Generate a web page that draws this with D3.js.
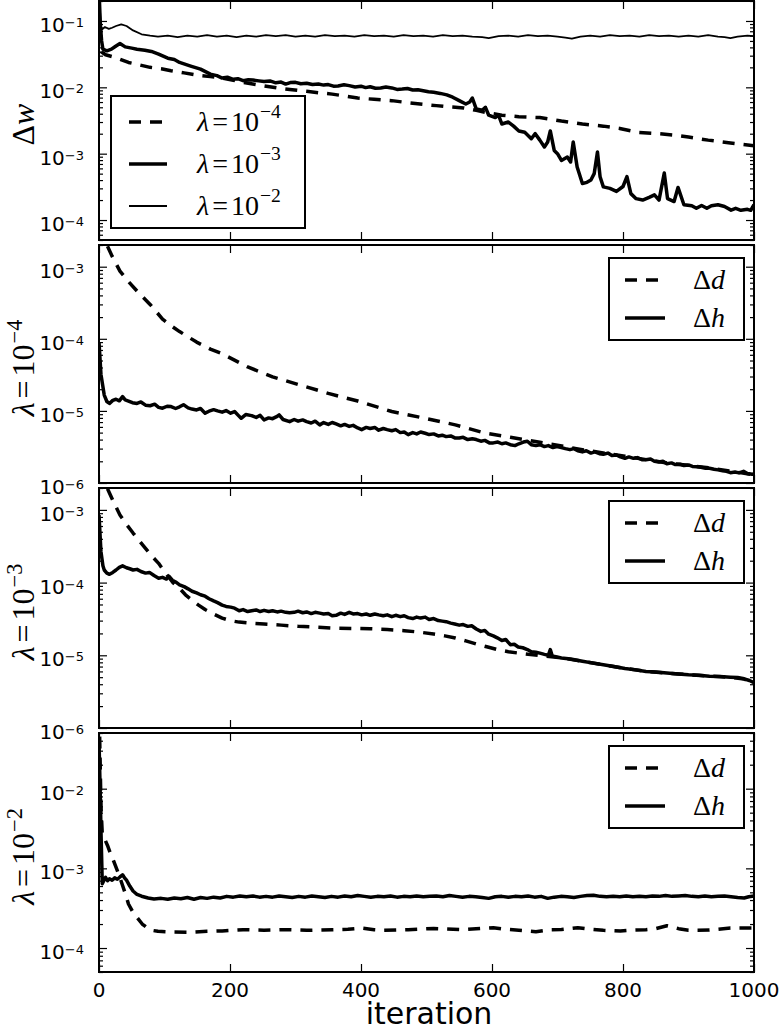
<!DOCTYPE html>
<html>
<head>
<meta charset="utf-8">
<script src="https://cdn.jsdelivr.net/npm/d3@7"></script>
<style>
  body { margin: 0; background: #fff; }
</style>
</head>
<body>
<div id="chart"></div>
<script>
// ---- data: [iteration, value] ----

// top panel, delta w for three lambdas
const dwLam4 = [[0,0.15],[2,0.05],[4,0.034],[10,0.031],[26,0.028],[45,0.0237],[60,0.022],[78,0.020],[95,0.019],[110,0.0178],[130,0.0165],[155,0.015],[170,0.0145],[188,0.0138],[205,0.0128],[220,0.0119],[245,0.0108],[272,0.0098],[295,0.0092],[317,0.0087],[335,0.0083],[356,0.0079],[375,0.0074],[395,0.0069],[420,0.0066],[447,0.0063],[470,0.0059],[498,0.0055],[515,0.0053],[531,0.0051],[557,0.0049],[576,0.0045],[595,0.0041],[615,0.0038],[641,0.0036],[673,0.0035],[690,0.0033],[706,0.0031],[738,0.0028],[770,0.0026],[795,0.0024],[822,0.0021],[854,0.0020],[880,0.0019],[900,0.00178],[930,0.0016],[964,0.00145],[1000,0.00132]];

const dwLam3 = [[0,0.3],[2,0.09],[4,0.05],[6,0.0376],[12,0.0355],[19,0.0376],[26,0.042],[32,0.0457],[40,0.0407],[50,0.039],[58,0.0376],[70,0.0363],[80,0.0347],[91,0.0316],[105,0.0275],[115,0.0262],[123,0.0237],[140,0.0209],[155,0.0188],[170,0.0158],[180,0.0150],[188,0.0138],[196,0.0142],[205,0.0132],[212,0.0135],[220,0.0126],[228,0.0130],[235,0.0129],[244,0.0125],[252,0.0122],[261,0.0125],[270,0.0117],[278,0.0120],[285,0.0112],[292,0.0118],[300,0.0119],[308,0.0113],[317,0.0115],[326,0.0110],[335,0.0112],[343,0.0108],[350,0.0110],[358,0.0104],[365,0.0105],[374,0.0109],[382,0.0106],[391,0.0101],[400,0.0104],[407,0.0099],[414,0.0102],[422,0.0097],[430,0.0098],[438,0.0101],[447,0.0098],[455,0.0093],[463,0.0094],[471,0.0096],[479,0.0091],[487,0.0092],[495,0.0089],[503,0.0086],[511,0.0084],[521,0.0081],[531,0.0077],[540,0.0071],[550,0.0063],[560,0.0056],[566,0.0060],[570,0.0069],[576,0.0047],[585,0.0045],[590,0.0050],[595,0.0038],[605,0.0035],[610,0.0038],[615,0.0028],[625,0.0030],[633,0.0026],[641,0.0022],[650,0.0021],[660,0.00168],[666,0.0020],[673,0.0016],[680,0.00126],[685,0.0015],[689,0.0022],[695,0.00112],[700,0.0010],[706,0.00079],[715,0.00089],[720,0.00075],[724,0.0015],[730,0.00063],[738,0.000355],[745,0.00037],[751,0.00040],[756,0.0005],[761,0.00106],[765,0.00045],[770,0.000316],[780,0.0003],[790,0.00027],[800,0.00032],[806,0.00045],[812,0.00025],[820,0.00021],[830,0.0002],[840,0.00022],[848,0.00024],[855,0.0002],[863,0.00051],[868,0.00021],[878,0.00019],[884,0.00031],[893,0.00017],[905,0.000164],[912,0.00015],[920,0.000166],[928,0.00015],[935,0.000164],[945,0.00017],[955,0.00016],[965,0.000141],[972,0.00015],[980,0.00014],[990,0.000145],[995,0.00014],[1000,0.00017]];

const dwLam2 = [[0,0.3],[3,0.072],[9,0.081],[15,0.076],[20,0.079],[26,0.084],[34,0.089],[42,0.084],[52,0.072],[65,0.063],[78,0.060],[90,0.058],[105,0.060],[120,0.057],[135,0.060],[150,0.058],[165,0.061],[180,0.058],[195,0.060],[210,0.057],[225,0.060],[240,0.058],[255,0.061],[270,0.059],[285,0.061],[300,0.058],[315,0.060],[330,0.058],[345,0.061],[360,0.059],[375,0.060],[390,0.058],[405,0.061],[420,0.059],[435,0.060],[450,0.058],[465,0.061],[480,0.059],[495,0.060],[510,0.058],[525,0.061],[540,0.059],[555,0.060],[570,0.058],[585,0.057],[595,0.055],[610,0.059],[625,0.060],[640,0.058],[655,0.061],[670,0.059],[685,0.060],[700,0.058],[712,0.056],[722,0.054],[735,0.058],[750,0.060],[765,0.058],[780,0.061],[795,0.059],[810,0.060],[825,0.058],[840,0.061],[855,0.059],[870,0.060],[885,0.058],[900,0.060],[915,0.058],[930,0.061],[945,0.058],[955,0.057],[964,0.055],[975,0.058],[990,0.060],[1000,0.059]];

// lambda = 1e-4
const dLam4 = [[13,1.92e-3],[20,1.4e-3],[32,8.7e-4],[45,6.2e-4],[58,4.6e-4],[78,3.0e-4],[97,1.88e-4],[110,1.52e-4],[123,1.26e-4],[149,9.0e-5],[170,7.2e-5],[188,6.2e-5],[227,4.07e-5],[265,2.97e-5],[304,2.33e-5],[350,1.75e-5],[395,1.37e-5],[447,9.8e-6],[498,7.9e-6],[544,6.4e-6],[589,4.93e-6],[628,4.3e-6],[673,3.67e-6],[738,2.9e-6],[803,2.35e-6],[867,1.9e-6],[932,1.62e-6],[1000,1.3e-6]];

const hLam4 = [[0,9e-5],[3,3.2e-5],[8,1.66e-5],[12,1.35e-5],[16,1.27e-5],[21,1.40e-5],[26,1.45e-5],[31,1.38e-5],[36,1.58e-5],[40,1.42e-5],[45,1.37e-5],[51,1.30e-5],[58,1.27e-5],[64,1.33e-5],[71,1.20e-5],[78,1.18e-5],[85,1.24e-5],[91,1.12e-5],[97,1.09e-5],[104,1.16e-5],[110,1.15e-5],[117,1.08e-5],[123,1.14e-5],[129,1.22e-5],[136,1.10e-5],[142,1.06e-5],[149,1.03e-5],[155,1.08e-5],[162,9.3e-6],[168,9.9e-6],[175,1.04e-5],[181,1.0e-5],[188,9.6e-6],[194,1.01e-5],[201,9.3e-6],[207,9.8e-6],[213,8.6e-6],[217,7.9e-6],[224,8.9e-6],[233,8.6e-6],[240,8.1e-6],[246,8.7e-6],[252,7.5e-6],[259,8.0e-6],[265,7.8e-6],[272,8.4e-6],[275,8.8e-6],[281,7.6e-6],[291,7.1e-6],[298,7.6e-6],[304,7.2e-6],[311,7.5e-6],[317,7.1e-6],[324,6.8e-6],[330,7.2e-6],[337,6.4e-6],[343,6.9e-6],[350,6.5e-6],[356,6.9e-6],[362,6.6e-6],[369,6.2e-6],[375,6.5e-6],[382,6.1e-6],[388,6.3e-6],[395,5.8e-6],[401,5.5e-6],[408,5.9e-6],[414,5.7e-6],[421,5.9e-6],[427,5.4e-6],[434,5.7e-6],[440,5.5e-6],[447,5.3e-6],[453,5.5e-6],[460,5.0e-6],[466,5.1e-6],[472,4.68e-6],[479,5.0e-6],[485,4.8e-6],[491,5.1e-6],[498,4.9e-6],[504,4.7e-6],[511,4.8e-6],[518,4.5e-6],[524,4.6e-6],[530,4.4e-6],[537,4.5e-6],[544,4.2e-6],[550,4.2e-6],[556,4.3e-6],[563,4.0e-6],[570,4.1e-6],[576,4.0e-6],[583,3.8e-6],[589,3.9e-6],[596,3.6e-6],[602,3.6e-6],[609,3.7e-6],[615,3.5e-6],[621,3.6e-6],[628,3.4e-6],[635,3.3e-6],[641,3.5e-6],[648,3.7e-6],[654,3.8e-6],[660,3.4e-6],[667,3.3e-6],[673,3.4e-6],[680,3.2e-6],[686,3.3e-6],[693,3.1e-6],[699,3.2e-6],[706,3.1e-6],[712,3.0e-6],[719,2.9e-6],[725,3.0e-6],[731,2.8e-6],[738,2.7e-6],[744,2.8e-6],[751,2.6e-6],[757,2.7e-6],[764,2.55e-6],[770,2.5e-6],[777,2.6e-6],[783,2.4e-6],[790,2.45e-6],[796,2.3e-6],[803,2.2e-6],[809,2.3e-6],[816,2.2e-6],[822,2.25e-6],[829,2.1e-6],[835,2.1e-6],[842,2.15e-6],[848,2.0e-6],[855,1.95e-6],[861,2.0e-6],[867,1.85e-6],[874,1.9e-6],[880,1.8e-6],[887,1.82e-6],[893,1.75e-6],[900,1.78e-6],[906,1.7e-6],[913,1.68e-6],[919,1.65e-6],[926,1.6e-6],[932,1.6e-6],[939,1.55e-6],[945,1.52e-6],[952,1.48e-6],[958,1.45e-6],[964,1.39e-6],[971,1.42e-6],[977,1.38e-6],[984,1.45e-6],[990,1.35e-6],[997,1.32e-6],[1000,1.34e-6]];

// lambda = 1e-3
const dLam3 = [[13,1.95e-3],[22,1.3e-3],[32,8.5e-4],[42,6.3e-4],[52,4.8e-4],[61,3.8e-4],[71,2.95e-4],[81,2.3e-4],[91,1.84e-4],[98,1.5e-4],[104,1.27e-4],[113,1.0e-4],[123,8.3e-5],[132,6.8e-5],[142,5.75e-5],[152,4.9e-5],[162,4.26e-5],[175,3.7e-5],[188,3.25e-5],[200,3.0e-5],[214,2.86e-5],[233,2.75e-5],[252,2.69e-5],[278,2.6e-5],[304,2.5e-5],[330,2.44e-5],[356,2.37e-5],[385,2.34e-5],[414,2.32e-5],[440,2.26e-5],[466,2.18e-5],[490,2.08e-5],[511,1.96e-5],[528,1.85e-5],[544,1.73e-5],[560,1.58e-5],[576,1.43e-5],[592,1.31e-5],[608,1.2e-5],[625,1.12e-5],[641,1.07e-5],[673,9.9e-6],[706,9.2e-6],[738,8.3e-6],[770,7.4e-6],[803,6.6e-6],[835,6.0e-6],[867,5.7e-6],[900,5.4e-6],[932,5.2e-6],[964,5.0e-6],[985,4.7e-6],[1000,4.2e-6]];

const hLam3 = [[0,8.5e-4],[3,2.66e-4],[6,1.7e-4],[8,1.49e-4],[12,1.35e-4],[16,1.3e-4],[21,1.38e-4],[26,1.49e-4],[31,1.62e-4],[36,1.7e-4],[42,1.6e-4],[47,1.55e-4],[52,1.49e-4],[58,1.52e-4],[64,1.42e-4],[71,1.35e-4],[77,1.38e-4],[84,1.25e-4],[91,1.15e-4],[97,1.18e-4],[103,1.12e-4],[107,1.22e-4],[112,1.08e-4],[117,1.02e-4],[123,9.3e-5],[130,8.8e-5],[136,8.2e-5],[142,7.6e-5],[149,7.2e-5],[155,6.8e-5],[162,6.5e-5],[168,6.0e-5],[175,5.6e-5],[181,5.3e-5],[188,4.9e-5],[194,4.7e-5],[201,4.6e-5],[207,4.45e-5],[214,4.1e-5],[220,4.25e-5],[227,4.0e-5],[233,4.1e-5],[240,4.2e-5],[246,4.0e-5],[252,4.15e-5],[259,4.0e-5],[265,4.1e-5],[272,3.95e-5],[278,4.05e-5],[285,3.9e-5],[291,3.85e-5],[298,3.9e-5],[304,4.05e-5],[311,3.85e-5],[317,3.95e-5],[324,3.75e-5],[330,3.9e-5],[337,3.8e-5],[343,3.7e-5],[350,3.75e-5],[356,3.5e-5],[362,3.55e-5],[369,3.8e-5],[375,3.65e-5],[382,3.9e-5],[388,3.7e-5],[395,3.75e-5],[401,3.6e-5],[408,3.7e-5],[414,3.55e-5],[421,3.7e-5],[427,3.6e-5],[434,3.5e-5],[440,3.6e-5],[447,3.4e-5],[453,3.55e-5],[460,3.4e-5],[466,3.5e-5],[472,3.3e-5],[479,3.2e-5],[485,3.35e-5],[491,3.25e-5],[498,3.35e-5],[504,3.1e-5],[511,3.2e-5],[518,3.0e-5],[524,2.95e-5],[530,2.9e-5],[537,2.77e-5],[543,2.7e-5],[550,2.6e-5],[556,2.65e-5],[563,2.5e-5],[569,2.55e-5],[576,2.3e-5],[583,2.13e-5],[589,2.2e-5],[595,1.95e-5],[602,1.85e-5],[608,1.74e-5],[615,1.6e-5],[621,1.65e-5],[628,1.4e-5],[634,1.42e-5],[640,1.3e-5],[647,1.27e-5],[654,1.2e-5],[660,1.12e-5],[667,1.1e-5],[673,1.07e-5],[680,1.03e-5],[686,1.0e-5],[689,1.2e-5],[692,9.8e-6],[699,9.5e-6],[706,9.2e-6],[720,8.9e-6],[738,8.3e-6],[755,7.8e-6],[770,7.4e-6],[786,7.0e-6],[803,6.6e-6],[820,6.3e-6],[835,6.0e-6],[850,5.9e-6],[867,5.7e-6],[884,5.55e-6],[900,5.4e-6],[916,5.3e-6],[932,5.15e-6],[948,5.1e-6],[964,5.0e-6],[975,4.95e-6],[985,4.75e-6],[993,4.5e-6],[1000,4.2e-6]];

// lambda = 1e-2
const dLam2 = [[1,4.5e-2],[3,6e-3],[5,2.7e-3],[9,2.3e-3],[13,1.94e-3],[18,1.5e-3],[23,1.2e-3],[30,8.5e-4],[36,6.1e-4],[41,4.6e-4],[45,3.57e-4],[51,2.9e-4],[58,2.43e-4],[66,2.0e-4],[78,1.68e-4],[90,1.62e-4],[110,1.59e-4],[142,1.58e-4],[165,1.62e-4],[188,1.64e-4],[220,1.70e-4],[252,1.67e-4],[285,1.70e-4],[317,1.67e-4],[356,1.70e-4],[380,1.72e-4],[401,1.78e-4],[420,1.70e-4],[434,1.67e-4],[472,1.70e-4],[511,1.76e-4],[557,1.70e-4],[602,1.80e-4],[620,1.72e-4],[641,1.67e-4],[667,1.60e-4],[690,1.70e-4],[706,1.71e-4],[731,1.80e-4],[750,1.72e-4],[770,1.67e-4],[796,1.63e-4],[815,1.68e-4],[835,1.70e-4],[850,1.75e-4],[867,1.90e-4],[885,1.75e-4],[900,1.67e-4],[932,1.68e-4],[964,1.78e-4],[1000,1.78e-4]];

const hLam2 = [[0,4e-2],[2,8e-3],[3,3.0e-3],[5,6.4e-4],[8,7.2e-4],[10,7.7e-4],[13,7.0e-4],[16,7.4e-4],[20,7.1e-4],[24,7.6e-4],[28,7.3e-4],[32,7.8e-4],[36,8.3e-4],[39,7.6e-4],[42,7.1e-4],[47,6.0e-4],[52,5.2e-4],[58,4.7e-4],[65,4.47e-4],[75,4.25e-4],[84,4.13e-4],[95,4.2e-4],[105,4.1e-4],[115,4.25e-4],[125,4.15e-4],[135,4.3e-4],[145,4.1e-4],[155,4.3e-4],[165,4.2e-4],[175,4.35e-4],[185,4.25e-4],[195,4.45e-4],[205,4.35e-4],[215,4.5e-4],[225,4.4e-4],[235,4.5e-4],[245,4.35e-4],[255,4.45e-4],[265,4.35e-4],[275,4.5e-4],[285,4.4e-4],[295,4.3e-4],[305,4.45e-4],[315,4.35e-4],[325,4.5e-4],[335,4.4e-4],[345,4.3e-4],[355,4.45e-4],[365,4.35e-4],[375,4.5e-4],[385,4.4e-4],[395,4.55e-4],[405,4.45e-4],[415,4.35e-4],[425,4.45e-4],[435,4.4e-4],[445,4.5e-4],[455,4.35e-4],[465,4.45e-4],[475,4.4e-4],[485,4.5e-4],[495,4.4e-4],[505,4.45e-4],[515,4.5e-4],[525,4.4e-4],[535,4.55e-4],[545,4.45e-4],[555,4.35e-4],[565,4.45e-4],[575,4.4e-4],[585,4.3e-4],[595,4.2e-4],[605,4.4e-4],[615,4.45e-4],[625,4.35e-4],[635,4.45e-4],[645,4.4e-4],[655,4.5e-4],[665,4.35e-4],[675,4.45e-4],[685,4.2e-4],[695,4.35e-4],[705,4.45e-4],[715,4.4e-4],[725,4.3e-4],[735,4.45e-4],[745,4.55e-4],[755,4.6e-4],[765,4.45e-4],[775,4.4e-4],[785,4.45e-4],[795,4.4e-4],[805,4.5e-4],[815,4.4e-4],[825,4.45e-4],[835,4.4e-4],[845,4.5e-4],[855,4.45e-4],[865,4.55e-4],[875,4.45e-4],[885,4.5e-4],[895,4.55e-4],[905,4.45e-4],[915,4.4e-4],[925,4.5e-4],[935,4.4e-4],[945,4.45e-4],[955,4.5e-4],[965,4.4e-4],[975,4.3e-4],[985,4.25e-4],[992,4.4e-4],[1000,4.5e-4]];

const xTicks = [0, 200, 400, 600, 800, 1000];
const lambdaExps = ['4', '3', '2'];

// ---- layout ----
const width = 783, height = 1031;
const x0 = 99, x1 = 754;
const serif = '"Liberation Serif", "DejaVu Serif", serif';
const sans = '"DejaVu Sans", sans-serif';

const styles = {
  dash: { w: 3.5, dash: '12,9' },
  thick: { w: 3.5, dash: null },
  thin: { w: 1.8, dash: null }
};

const panels = [
  { top: 1, bottom: 240, domain: [5e-5, 0.2],
    series: [[dwLam4, 'dash'], [dwLam3, 'thick'], [dwLam2, 'thin']],
    label: [{ t: 'Δ' }, { t: 'w', it: true }],
    legend: { box: [111, 96, 305, 228], rows: [122, 164, 206], line: [129, 167], tx: 197,
      items: lambdaExps.map((e, i) => ({ style: ['dash', 'thick', 'thin'][i],
        text: [{ t: 'λ', it: true }, { t: '=', dx: 3 }, { t: '10', dx: 3 }, { t: '−' + e, sup: true }] })) } },
  { top: 245, bottom: 483, domain: [1e-6, 2e-3], exp: '4', series: [[dLam4, 'dash'], [hLam4, 'thick']] },
  { top: 488, bottom: 728, domain: [1e-6, 2e-3], exp: '3', series: [[dLam3, 'dash'], [hLam3, 'thick']] },
  { top: 733, bottom: 972, domain: [5e-5, 0.05], exp: '2', series: [[dLam2, 'dash'], [hLam2, 'thick']], xLabels: true }
];

panels.forEach(p => {
  if (p.exp) {
    p.label = [{ t: 'λ', it: true }, { t: '=', dx: 4 }, { t: '10', dx: 4 }, { t: '−' + p.exp, sup: true }];
    p.legend = { box: [609, p.top + 13, 744, p.top + 95], rows: [p.top + 35, p.top + 73], line: [625, 665], tx: 693,
      items: [{ style: 'dash', text: [{ t: 'Δ' }, { t: 'd', it: true }] },
              { style: 'thick', text: [{ t: 'Δ' }, { t: 'h', it: true }] }] };
  }
});

const svg = d3.select('#chart').append('svg')
  .attr('width', width)
  .attr('height', height)
  .style('background', '#fff');

const x = d3.scaleLinear().domain([0, 1000]).range([x0, x1]);

// math-ish text with italic letters and superscripts
function mathText(sel, parts, size, raise) {
  parts.forEach(p => {
    const t = sel.append('tspan').text(p.t);
    if (p.it) t.attr('font-style', 'italic');
    if (p.dx) t.attr('dx', p.dx);
    if (p.sup) t.attr('font-size', size * 0.7).attr('dy', -size * (raise || 0.45)).attr('dx', 1);
  });
}

function styleLine(sel, s) {
  sel.attr('fill', 'none')
    .attr('stroke', '#000')
    .attr('stroke-width', styles[s].w)
    .attr('stroke-linejoin', 'round')
    .attr('stroke-dasharray', styles[s].dash);
}

panels.forEach((p, pi) => {
  const y = d3.scaleLog().domain(p.domain).range([p.bottom, p.top]);
  const g = svg.append('g');

  const clipId = 'clip' + pi;
  svg.append('clipPath').attr('id', clipId)
    .append('rect')
    .attr('x', x0).attr('y', p.top)
    .attr('width', x1 - x0).attr('height', p.bottom - p.top);

  const line = d3.line()
    .x(d => x(d[0]))
    .y(d => y(d[1]));

  p.series.forEach(([data, s]) => {
    g.append('path')
      .attr('clip-path', 'url(#' + clipId + ')')
      .attr('d', line(data))
      .call(styleLine, s);
  });

  // ticks, pointing inward on all four sides
  const isMajor = v => Math.abs(Math.log10(v) - Math.round(Math.log10(v))) < 1e-6;
  const all = y.ticks();
  const majors = all.filter(isMajor);
  const minors = all.filter(v => !isMajor(v));

  const tickAxis = (axis, tx, ty) => {
    g.append('g')
      .attr('transform', 'translate(' + tx + ',' + ty + ')')
      .call(axis)
      .call(a => a.select('.domain').remove())
      .call(a => a.selectAll('line').attr('stroke-width', 1.2));
  };
  tickAxis(d3.axisLeft(y).tickValues(majors).tickSize(-8).tickFormat(''), x0, 0);
  tickAxis(d3.axisLeft(y).tickValues(minors).tickSize(-4).tickFormat(''), x0, 0);
  tickAxis(d3.axisRight(y).tickValues(majors).tickSize(-8).tickFormat(''), x1, 0);
  tickAxis(d3.axisRight(y).tickValues(minors).tickSize(-4).tickFormat(''), x1, 0);
  tickAxis(d3.axisTop(x).tickValues(xTicks).tickSize(-8).tickFormat(''), 0, p.top);
  tickAxis(d3.axisBottom(x).tickValues(xTicks).tickSize(-8).tickFormat(''), 0, p.bottom);

  // frame
  g.append('rect')
    .attr('x', x0).attr('y', p.top)
    .attr('width', x1 - x0).attr('height', p.bottom - p.top)
    .attr('fill', 'none')
    .attr('stroke', '#000')
    .attr('stroke-width', 2);

  // y tick labels 10^k
  majors.forEach(v => {
    const t = g.append('text')
      .attr('x', 84)
      .attr('y', y(v) + 11)
      .attr('text-anchor', 'end')
      .attr('font-family', sans)
      .attr('font-size', 20);
    t.append('tspan').text('10');
    t.append('tspan')
      .attr('font-size', 13)
      .attr('dy', -5)
      .text('−' + Math.round(-Math.log10(v)));
  });

  // y label
  const lab = g.append('text')
    .attr('transform', 'translate(34,' + ((p.top + p.bottom) / 2 + 4) + ') rotate(-90)')
    .attr('text-anchor', 'middle')
    .attr('font-family', serif)
    .attr('font-size', 32);
  mathText(lab, p.label, 32, 0.38);

  // legend
  const L = p.legend;
  g.append('rect')
    .attr('x', L.box[0]).attr('y', L.box[1])
    .attr('width', L.box[2] - L.box[0]).attr('height', L.box[3] - L.box[1])
    .attr('fill', '#fff')
    .attr('stroke', '#000')
    .attr('stroke-width', 2);
  L.items.forEach((it, i) => {
    const ry = L.rows[i];
    g.append('line')
      .attr('x1', L.line[0]).attr('x2', L.line[1])
      .attr('y1', ry).attr('y2', ry)
      .call(styleLine, it.style);
    const t = g.append('text')
      .attr('x', L.tx)
      .attr('y', ry + 9)
      .attr('font-family', serif)
      .attr('font-size', 28);
    mathText(t, it.text, 28);
  });

  // x tick labels, bottom panel only
  if (p.xLabels) {
    xTicks.forEach(v => {
      g.append('text')
        .attr('x', x(v))
        .attr('y', 997)
        .attr('text-anchor', 'middle')
        .attr('font-family', sans)
        .attr('font-size', 20)
        .text(v);
    });
    g.append('text')
      .attr('x', 429)
      .attr('y', 1024)
      .attr('text-anchor', 'middle')
      .attr('font-family', sans)
      .attr('font-size', 30)
      .text('iteration');
  }
});
</script>
</body>
</html>
